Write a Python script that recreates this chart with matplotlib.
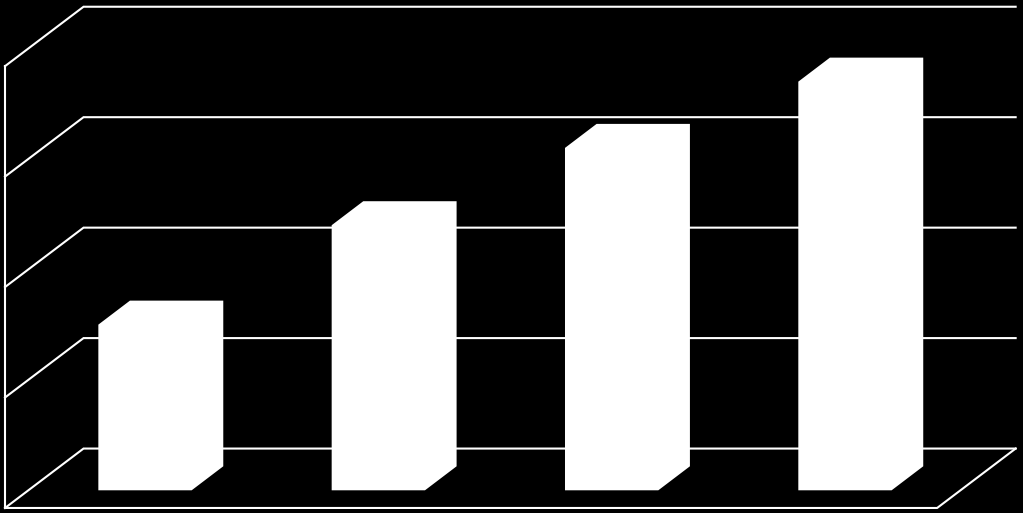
import matplotlib
matplotlib.use('Agg')
import matplotlib.pyplot as plt
from matplotlib.patches import Polygon

# values
categories = ['1', '2', '3', '4']
values = [1.5, 2.4, 3.1, 3.7]
grid_levels = [0, 1, 2, 3, 4]

bar_width = 0.4
depth_x = 31.6 / 233.3
depth_y = 24 / 110.45
# floor corners, relative to the bar row
wall_x = -0.6
wall_depth = 78.5 / 233.3
floor_right = 3.395
floor_front = -0.16
floor_back = 0.378

fig = plt.figure(figsize=(10.23, 5.13), dpi=100, facecolor='black')
ax = fig.add_axes([0, 0, 1, 1], facecolor='black')
ax.set_xlim(-0.6215, 3.763)
ax.set_ylim(-0.2055, 4.439)
ax.axis('off')

lw = 1.5
# grid lines: side wall diagonal and back wall
for g in grid_levels:
    ax.plot([wall_x, wall_x + wall_depth, floor_right + wall_depth],
            [floor_front + g, floor_back + g, floor_back + g],
            color='white', lw=lw, solid_joinstyle='miter')

# left edge of the wall and floor outline
ax.plot([wall_x, wall_x], [floor_front, floor_front + 4], color='white', lw=lw)
ax.plot([wall_x, floor_right, floor_right + wall_depth],
        [floor_front, floor_front, floor_back], color='white', lw=lw)

# 3d bars, all white so the outline is one shape
for i, v in enumerate(values):
    x0 = i - bar_width / 2
    x1 = i + bar_width / 2
    outline = [(x0, 0), (x1, 0), (x1 + depth_x, depth_y), (x1 + depth_x, v + depth_y),
               (x0 + depth_x, v + depth_y), (x0, v)]
    ax.add_patch(Polygon(outline, closed=True, facecolor='white', edgecolor='none', zorder=3))

fig.savefig('out.png', dpi=100, facecolor='black')
